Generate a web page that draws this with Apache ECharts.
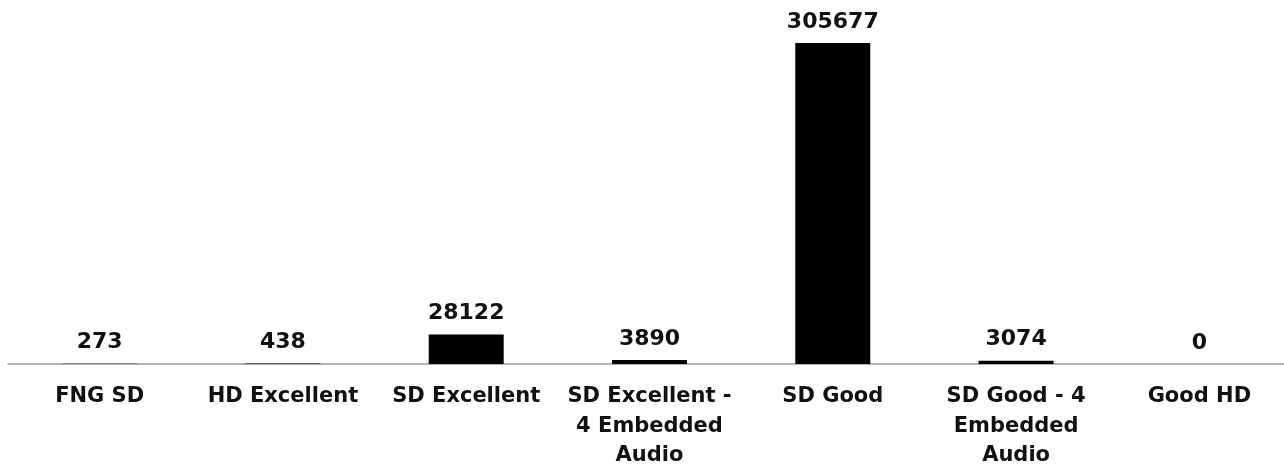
<!DOCTYPE html>
<html>
<head>
<meta charset="utf-8">
<script src="https://cdn.jsdelivr.net/npm/echarts@6/dist/echarts.min.js"></script>
<style>
html,body{margin:0;padding:0;background:#fff;}
#c{width:1284px;height:466px;}
</style>
</head>
<body>
<div id="c"></div>
<script>
const categories = ["FNG SD", "HD Excellent", "SD Excellent", "SD Excellent - 4 Embedded Audio", "SD Good", "SD Good - 4 Embedded Audio", "Good HD"];
const categoryLabels = ["FNG SD", "HD Excellent", "SD Excellent", "SD Excellent -\n4 Embedded\nAudio", "SD Good", "SD Good - 4\nEmbedded\nAudio", "Good HD"];
const values = [273, 438, 28122, 3890, 305677, 3074, 0];

const chart = echarts.init(document.getElementById('c'));
chart.setOption({
  animation: false,
  grid: {left: 8, width: 1283, top: 43, height: 321, containLabel: false, outerBoundsMode: 'none'},
  xAxis: {
    type: 'category',
    data: categories,
    axisLine: {show: true, lineStyle: {color: '#9a9a9a', width: 1.5}},
    axisTick: {show: false},
    axisLabel: {
      interval: 0,
      margin: 18,
      color: '#111',
      fontFamily: 'DejaVu Sans',
      fontWeight: 'bold',
      fontSize: 21,
      lineHeight: 29.5,
      formatter: function (v, i) { return categoryLabels[i]; }
    }
  },
  yAxis: {
    type: 'value',
    show: false,
    min: 0,
    max: function (v) { return v.max; }
  },
  series: [{
    type: 'bar',
    data: values,
    barWidth: 75,
    itemStyle: {color: '#000'},
    label: {
      show: true,
      position: 'top',
      distance: 10,
      color: '#111',
      fontFamily: 'DejaVu Sans',
      fontWeight: 'bold',
      fontSize: 22
    }
  }]
});
</script>
</body>
</html>
